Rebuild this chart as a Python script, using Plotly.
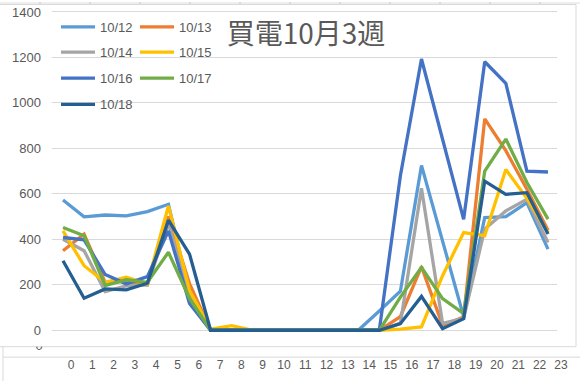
import plotly.graph_objects as go

# ---- data ----
hours = list(range(24))
x_tick_labels = ["0", "1", "2", "3", "4", "5", "6", "7", "8", "9", "10", "11",
                 "12", "13", "14", "15", "16", "17", "18", "19", "20", "21", "22", "23"]
series_names = ["10/12", "10/13", "10/14", "10/15", "10/16", "10/17", "10/18"]
d1012 = [573, 499, 507, 503, 522, 554, 160, 0, 0, 0, 0, 0, 0, 0, 0, 85, 172, 725, 390, 60, 496, 500, 561, 357]
d1013 = [350, 423, 211, 215, 200, 500, 205, 0, 0, 0, 0, 0, 0, 0, 0, 0, 60, 280, 22, 58, 930, 790, 620, 440]
d1014 = [400, 350, 170, 195, 200, 470, 150, 0, 0, 0, 0, 0, 0, 0, 0, 0, 30, 625, 30, 52, 445, 525, 576, 386]
d1015 = [437, 284, 211, 233, 204, 547, 175, 5, 20, 0, 0, 0, 0, 0, 0, 0, 5, 15, 240, 430, 416, 707, 580, 430]
d1016 = [408, 398, 245, 204, 236, 437, 118, 0, 0, 0, 0, 0, 0, 0, 0, 0, 680, 1193, 840, 488, 1181, 1086, 700, 696]
d1017 = [452, 416, 197, 222, 211, 343, 140, 0, 0, 0, 0, 0, 0, 0, 0, 0, 146, 277, 139, 73, 700, 841, 650, 489]
d1018 = [306, 141, 182, 178, 207, 484, 335, 0, 0, 0, 0, 0, 0, 0, 0, 0, 29, 149, 7, 51, 656, 598, 605, 423]
title_text = "買電10月3週"

series_values = [d1012, d1013, d1014, d1015, d1016, d1017, d1018]
colors = ["#5B9BD5", "#ED7D31", "#A5A5A5", "#FFC000", "#4472C4", "#70AD47", "#255E91"]

W, H = 580, 381
def fx(px):
    return px / W
def fy(py):
    return 1 - py / H

TXT = "#595959"
GRID = "#d9d9d9"

fig = go.Figure()

# legend slots (pixel positions of line sample start, row centre)
legend_pos = [(63, 25), (142, 25), (63, 50.5), (142, 50.5), (63, 76.5), (142, 76.5), (63, 103)]

for i, (name, vals, col) in enumerate(zip(series_names, series_values, colors)):
    lg = "legend" if i == 0 else f"legend{i+1}"
    fig.add_trace(go.Scatter(x=hours, y=vals, mode="lines", name=name,
                             line=dict(color=col, width=3.3),
                             xaxis="x", yaxis="y", legend=lg, hoverinfo="skip"))

# clipped stray axis label "0" (partially hidden in reference)
fig.add_trace(go.Scatter(x=[(39 - 71) / 21.3], y=[381 - 346.5], mode="text", text=["0"],
                         textfont=dict(size=13, color=TXT, family="Liberation Sans"),
                         xaxis="x2", yaxis="y3", showlegend=False, cliponaxis=True,
                         hoverinfo="skip"))

layout_legends = {}
for i, (lx, ly) in enumerate(legend_pos):
    key = "legend" if i == 0 else f"legend{i+1}"
    layout_legends[key] = dict(x=fx(lx - 7), y=fy(ly), xanchor="left", yanchor="middle",
                               bgcolor="rgba(0,0,0,0)", borderwidth=0, itemwidth=34,
                               font=dict(size=13, color=TXT, family="Liberation Sans"),
                               orientation="h", itemclick=False)

# y axis: value 0 at py 330, 1400 at py 10
k = 1400 / 320.0
y_top_px, y_bot_px = 5, 342
y_range = [(330 - y_bot_px) * k, (330 - y_top_px) * k]

sp = 21.087
x_left_px, x_right_px = 52, 557
x_range = [(x_left_px - 63) / sp, (x_right_px - 63) / sp]

lsp = 21.3
x2_range = [(0 - 71) / lsp, (W - 71) / lsp]

shapes = []
def line(x0, y0, x1, y1, color=GRID, w=1):
    shapes.append(dict(type="line", xref="paper", yref="paper",
                       x0=fx(x0), y0=fy(y0), x1=fx(x1), y1=fy(y1),
                       line=dict(color=color, width=w), layer="below"))

# top strip of spreadsheet
shapes.append(dict(type="rect", xref="paper", yref="paper", x0=0, x1=1, y0=fy(2), y1=1,
                   fillcolor="#eeeeee", line=dict(width=0), layer="below"))
for cx in range(40, 560, 50):
    line(cx, 0, cx, 2.5, "#c6c6c6")
line(0, 2.5, 576, 2.5)
line(576, 2.5, 576, 346.5)
line(0, 346.5, 576, 346.5)
line(3, 357, 580, 357)
line(3, 346.5, 3, 381)

fig.update_layout(
    width=W, height=H, autosize=False,
    margin=dict(l=0, r=0, t=0, b=0),
    paper_bgcolor="white", plot_bgcolor="white",
    font=dict(family="Liberation Sans", color=TXT),
    title=dict(text=title_text, x=fx(306), y=fy(32), xanchor="center", yanchor="middle",
               xref="paper", yref="paper",
               font=dict(family="Noto Sans CJK JP", size=28, color=TXT)),
    xaxis=dict(domain=[fx(x_left_px), fx(x_right_px)], range=x_range,
               showticklabels=False, showgrid=False, zeroline=False, showline=False,
               ticks="", anchor="y"),
    yaxis=dict(domain=[fy(y_bot_px), fy(y_top_px)], range=y_range,
               tick0=0, dtick=200, showgrid=True, gridcolor=GRID, gridwidth=1,
               zeroline=False, showline=False, ticks="",
               tickfont=dict(size=13, color=TXT, family="Liberation Sans"),
               ticklabelstandoff=10, anchor="x"),
    xaxis2=dict(domain=[0, 1], range=x2_range, anchor="free", position=fy(356),
                side="bottom", tickvals=hours, ticktext=x_tick_labels,
                tickfont=dict(size=12, color=TXT, family="Liberation Sans"),
                showgrid=False, zeroline=False, showline=False, ticks=""),
    yaxis3=dict(domain=[0, fy(346.5)], range=[0, 34.5], visible=False, anchor="x2"),
    shapes=shapes,
    hovermode=False,
    **layout_legends,
)

fig.write_html("out.html", config={"displayModeBar": False},
               post_script="document.body.style.margin='0';document.body.style.overflow='hidden';")
